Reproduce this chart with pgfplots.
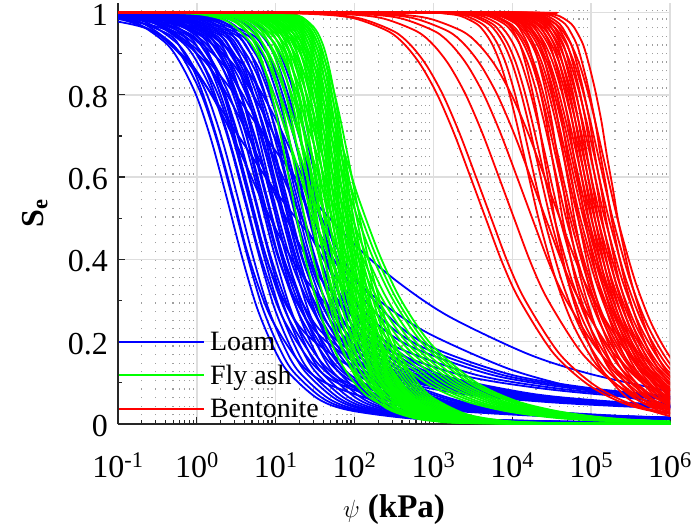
\documentclass[border=0pt]{standalone}
\usepackage{fontspec}
\setmainfont{Liberation Serif}
\usepackage{pgfplots}
\usepackage{pgfplotstable}
\pgfplotsset{compat=1.18}

\definecolor{loamc}{RGB}{0,0,255}
\definecolor{flyc}{RGB}{0,255,0}
\definecolor{bentc}{RGB}{255,0,0}

% Effective saturation curves, x = log10(psi / kPa), one column per sample
% ---------------- Loam ----------------
\pgfplotstableread{
se c1 c2 c3 c4 c5 c6
0.999 -1.93 -1.79 -1.65 -1.51 -1.36 -1.21
0.992 -1.16 -1.02 -0.88 -0.74 -0.59 -0.44
0.975 -0.77 -0.63 -0.49 -0.35 -0.20 -0.05
0.925 -0.39 -0.25 -0.11 0.03 0.18 0.33
0.874 -0.20 -0.06 0.08 0.22 0.37 0.52
0.795 0.00 0.14 0.28 0.42 0.57 0.72
0.685 0.19 0.33 0.47 0.61 0.76 0.91
0.549 0.38 0.52 0.66 0.80 0.95 1.10
0.408 0.57 0.71 0.85 0.99 1.14 1.29
0.284 0.76 0.90 1.04 1.18 1.33 1.48
0.191 0.96 1.10 1.24 1.38 1.53 1.68
0.128 1.15 1.29 1.43 1.57 1.72 1.87
0.062 1.53 1.67 1.81 1.95 2.10 2.25
0.034 1.92 2.06 2.20 2.34 2.49 2.64
0.014 2.69 2.83 2.97 3.11 3.26 3.41
0.008 3.46 3.60 3.74 3.88 4.03 4.18
0.003 5.00 5.14 5.28 5.42 5.57 5.72
0.002 6.53 6.67 6.81 6.95 7.10 7.25
}\loamA

\pgfplotstableread{
se c1 c2 c3 c4 c5
0.999 -1.86 -1.71 -1.58 -1.43 -1.29
0.992 -1.09 -0.94 -0.81 -0.66 -0.52
0.975 -0.70 -0.55 -0.42 -0.27 -0.13
0.925 -0.32 -0.17 -0.04 0.11 0.25
0.874 -0.13 0.02 0.15 0.30 0.44
0.795 0.07 0.22 0.35 0.50 0.64
0.685 0.26 0.41 0.54 0.69 0.83
0.549 0.45 0.60 0.73 0.88 1.02
0.408 0.64 0.79 0.92 1.07 1.21
0.284 0.83 0.98 1.11 1.26 1.40
0.191 1.03 1.18 1.31 1.46 1.60
0.128 1.22 1.37 1.50 1.65 1.79
0.062 1.60 1.75 1.88 2.03 2.17
0.034 1.99 2.14 2.27 2.42 2.56
0.014 2.76 2.91 3.04 3.19 3.33
0.008 3.53 3.68 3.81 3.96 4.10
0.003 5.07 5.22 5.35 5.50 5.64
0.002 6.60 6.75 6.88 7.03 7.17
}\loamAA

\pgfplotstableread{
se c1 c2 c3 c4 c5 c6 c7 c8 c9 c10
1.000 -2.30 -2.15 -2.02 -1.92 -1.82 -1.72 -1.62 -1.52 -1.40 -1.25
0.999 -1.70 -1.55 -1.42 -1.32 -1.22 -1.12 -1.02 -0.92 -0.80 -0.65
0.994 -1.03 -0.88 -0.75 -0.65 -0.55 -0.45 -0.35 -0.25 -0.13 0.02
0.948 -0.37 -0.22 -0.09 0.01 0.11 0.21 0.31 0.41 0.53 0.68
0.912 -0.20 -0.05 0.08 0.18 0.28 0.38 0.48 0.58 0.70 0.85
0.855 -0.03 0.12 0.25 0.35 0.45 0.55 0.65 0.75 0.87 1.02
0.772 0.13 0.28 0.41 0.51 0.61 0.71 0.81 0.91 1.03 1.18
0.665 0.30 0.45 0.58 0.68 0.78 0.88 0.98 1.08 1.20 1.35
0.543 0.47 0.62 0.75 0.85 0.95 1.05 1.15 1.25 1.37 1.52
0.424 0.63 0.78 0.91 1.01 1.11 1.21 1.31 1.41 1.53 1.68
0.324 0.80 0.95 1.08 1.18 1.28 1.38 1.48 1.58 1.70 1.85
0.247 0.97 1.12 1.25 1.35 1.45 1.55 1.65 1.75 1.87 2.02
0.150 1.30 1.45 1.58 1.68 1.78 1.88 1.98 2.08 2.20 2.35
0.100 1.63 1.78 1.91 2.01 2.11 2.21 2.31 2.41 2.53 2.68
0.055 2.30 2.45 2.58 2.68 2.78 2.88 2.98 3.08 3.20 3.35
0.036 2.97 3.12 3.25 3.35 3.45 3.55 3.65 3.75 3.87 4.02
0.020 4.30 4.45 4.58 4.68 4.78 4.88 4.98 5.08 5.20 5.35
0.013 5.63 5.78 5.91 6.01 6.11 6.21 6.31 6.41 6.53 6.68
0.009 6.97 7.12 7.25 7.35 7.45 7.55 7.65 7.75 7.87 8.02
}\loamB

\pgfplotstableread{
se c1 c2 c3 c4 c5 c6
1.000 -2.08 -1.87 -1.67 -1.57 -1.46 -1.32
0.999 -1.48 -1.27 -1.07 -0.97 -0.86 -0.72
0.994 -0.81 -0.60 -0.40 -0.30 -0.19 -0.05
0.948 -0.15 0.06 0.26 0.36 0.47 0.61
0.912 0.02 0.23 0.43 0.53 0.64 0.78
0.855 0.19 0.40 0.60 0.70 0.81 0.95
0.772 0.35 0.56 0.76 0.86 0.97 1.11
0.665 0.52 0.73 0.93 1.03 1.14 1.28
0.543 0.69 0.90 1.10 1.20 1.31 1.45
0.424 0.85 1.06 1.26 1.36 1.47 1.61
0.324 1.02 1.23 1.43 1.53 1.64 1.78
0.247 1.19 1.40 1.60 1.70 1.81 1.95
0.150 1.52 1.73 1.93 2.03 2.14 2.28
0.100 1.85 2.06 2.26 2.36 2.47 2.61
0.055 2.52 2.73 2.93 3.03 3.14 3.28
0.036 3.19 3.40 3.60 3.70 3.81 3.95
0.020 4.52 4.73 4.93 5.03 5.14 5.28
0.013 5.85 6.06 6.26 6.36 6.47 6.61
0.009 7.19 7.40 7.60 7.70 7.81 7.95
}\loamBB

\pgfplotstableread{
se c1 c2 c3 c4 c5 c6 c7
1.000 -2.10 -1.95 -1.80 -1.65 -1.50 -1.35 -1.20
0.9996 -1.10 -0.95 -0.80 -0.65 -0.50 -0.35 -0.20
0.996 -0.60 -0.45 -0.30 -0.15 0.00 0.15 0.30
0.989 -0.35 -0.20 -0.05 0.10 0.25 0.40 0.55
0.965 -0.10 0.05 0.20 0.35 0.50 0.65 0.80
0.901 0.15 0.30 0.45 0.60 0.75 0.90 1.05
0.761 0.40 0.55 0.70 0.85 1.00 1.15 1.30
0.564 0.65 0.80 0.95 1.10 1.25 1.40 1.55
0.393 0.90 1.05 1.20 1.35 1.50 1.65 1.80
0.283 1.15 1.30 1.45 1.60 1.75 1.90 2.05
0.216 1.40 1.55 1.70 1.85 2.00 2.15 2.30
0.145 1.90 2.05 2.20 2.35 2.50 2.65 2.80
0.109 2.40 2.55 2.70 2.85 3.00 3.15 3.30
0.072 3.40 3.55 3.70 3.85 4.00 4.15 4.30
0.054 4.40 4.55 4.70 4.85 5.00 5.15 5.30
0.043 5.40 5.55 5.70 5.85 6.00 6.15 6.30
0.036 6.40 6.55 6.70 6.85 7.00 7.15 7.30
}\loamC

\pgfplotstableread{
se c1 c2 c3 c4 c5
1.000 -1.88 -1.72 -1.57 -1.42 -1.28
0.9996 -0.88 -0.72 -0.57 -0.42 -0.28
0.996 -0.38 -0.22 -0.07 0.08 0.22
0.989 -0.13 0.03 0.18 0.33 0.47
0.965 0.12 0.28 0.43 0.58 0.72
0.901 0.37 0.53 0.68 0.83 0.97
0.761 0.62 0.78 0.93 1.08 1.22
0.564 0.87 1.03 1.18 1.33 1.47
0.393 1.12 1.28 1.43 1.58 1.72
0.283 1.37 1.53 1.68 1.83 1.97
0.216 1.62 1.78 1.93 2.08 2.22
0.145 2.12 2.28 2.43 2.58 2.72
0.109 2.62 2.78 2.93 3.08 3.22
0.072 3.62 3.78 3.93 4.08 4.22
0.054 4.62 4.78 4.93 5.08 5.22
0.043 5.62 5.78 5.93 6.08 6.22
0.036 6.62 6.78 6.93 7.08 7.22
}\loamCC

\pgfplotstableread{
se c1 c2 c3 c4 c5
0.999 -2.15 -1.95 -1.75 -1.62 -1.50
0.996 -1.65 -1.45 -1.25 -1.12 -1.00
0.962 -0.65 -0.45 -0.25 -0.12 0.00
0.891 -0.15 0.05 0.25 0.38 0.50
0.827 0.10 0.30 0.50 0.63 0.75
0.741 0.35 0.55 0.75 0.88 1.00
0.639 0.60 0.80 1.00 1.13 1.25
0.533 0.85 1.05 1.25 1.38 1.50
0.437 1.10 1.30 1.50 1.63 1.75
0.358 1.35 1.55 1.75 1.88 2.00
0.249 1.85 2.05 2.25 2.38 2.50
0.185 2.35 2.55 2.75 2.88 3.00
0.119 3.35 3.55 3.75 3.88 4.00
0.087 4.35 4.55 4.75 4.88 5.00
0.068 5.35 5.55 5.75 5.88 6.00
0.056 6.35 6.55 6.75 6.88 7.00
}\loamD

\pgfplotstableread{
xa ya xb yb
-1.20 0.995 -1.20 0.992
-1.00 0.992 -1.00 0.986
-0.50 0.971 -0.50 0.948
0.00 0.910 0.00 0.852
0.50 0.797 0.50 0.708
1.00 0.663 1.00 0.565
1.52 0.535 1.50 0.444
2.06 0.425 2.00 0.349
2.57 0.342 2.50 0.273
3.20 0.261 3.00 0.214
4.20 0.170 4.00 0.131
5.00 0.121 5.00 0.080
6.00 0.079 6.00 0.049
6.30 0.069 6.30 0.043
}\loamE

% ---------------- Fly ash ----------------
\pgfplotstableread{
se c1 c2 c3 c4 c5 c6 c7 c8 c9
1.000 -1.90 -1.72 -1.60 -1.50 -1.42 -1.34 -1.26 -1.18 -1.10
0.9996 -0.20 -0.02 0.10 0.20 0.28 0.36 0.44 0.52 0.60
0.996 0.20 0.38 0.50 0.60 0.68 0.76 0.84 0.92 1.00
0.988 0.40 0.58 0.70 0.80 0.88 0.96 1.04 1.12 1.20
0.963 0.60 0.78 0.90 1.00 1.08 1.16 1.24 1.32 1.40
0.937 0.70 0.88 1.00 1.10 1.18 1.26 1.34 1.42 1.50
0.896 0.80 0.98 1.10 1.20 1.28 1.36 1.44 1.52 1.60
0.837 0.90 1.08 1.20 1.30 1.38 1.46 1.54 1.62 1.70
0.758 1.00 1.18 1.30 1.40 1.48 1.56 1.64 1.72 1.80
0.665 1.10 1.28 1.40 1.50 1.58 1.66 1.74 1.82 1.90
0.566 1.20 1.38 1.50 1.60 1.68 1.76 1.84 1.92 2.00
0.469 1.30 1.48 1.60 1.70 1.78 1.86 1.94 2.02 2.10
0.383 1.40 1.58 1.70 1.80 1.88 1.96 2.04 2.12 2.20
0.248 1.60 1.78 1.90 2.00 2.08 2.16 2.24 2.32 2.40
0.158 1.80 1.98 2.10 2.20 2.28 2.36 2.44 2.52 2.60
0.100 2.00 2.18 2.30 2.40 2.48 2.56 2.64 2.72 2.80
0.063 2.20 2.38 2.50 2.60 2.68 2.76 2.84 2.92 3.00
0.025 2.60 2.78 2.90 3.00 3.08 3.16 3.24 3.32 3.40
0.010 3.00 3.18 3.30 3.40 3.48 3.56 3.64 3.72 3.80
0.004 3.40 3.58 3.70 3.80 3.88 3.96 4.04 4.12 4.20
0.001 4.20 4.38 4.50 4.60 4.68 4.76 4.84 4.92 5.00
0.000 6.20 6.38 6.50 6.60 6.68 6.76 6.84 6.92 7.00
}\flyA

\pgfplotstableread{
se c1 c2 c3 c4 c5 c6 c7 c8
1.000 -1.80 -1.66 -1.55 -1.46 -1.38 -1.30 -1.22 -1.14
0.9996 -0.10 0.04 0.15 0.24 0.32 0.40 0.48 0.56
0.996 0.30 0.44 0.55 0.64 0.72 0.80 0.88 0.96
0.988 0.50 0.64 0.75 0.84 0.92 1.00 1.08 1.16
0.963 0.70 0.84 0.95 1.04 1.12 1.20 1.28 1.36
0.937 0.80 0.94 1.05 1.14 1.22 1.30 1.38 1.46
0.896 0.90 1.04 1.15 1.24 1.32 1.40 1.48 1.56
0.837 1.00 1.14 1.25 1.34 1.42 1.50 1.58 1.66
0.758 1.10 1.24 1.35 1.44 1.52 1.60 1.68 1.76
0.665 1.20 1.34 1.45 1.54 1.62 1.70 1.78 1.86
0.566 1.30 1.44 1.55 1.64 1.72 1.80 1.88 1.96
0.469 1.40 1.54 1.65 1.74 1.82 1.90 1.98 2.06
0.383 1.50 1.64 1.75 1.84 1.92 2.00 2.08 2.16
0.248 1.70 1.84 1.95 2.04 2.12 2.20 2.28 2.36
0.158 1.90 2.04 2.15 2.24 2.32 2.40 2.48 2.56
0.100 2.10 2.24 2.35 2.44 2.52 2.60 2.68 2.76
0.063 2.30 2.44 2.55 2.64 2.72 2.80 2.88 2.96
0.025 2.70 2.84 2.95 3.04 3.12 3.20 3.28 3.36
0.010 3.10 3.24 3.35 3.44 3.52 3.60 3.68 3.76
0.004 3.50 3.64 3.75 3.84 3.92 4.00 4.08 4.16
0.001 4.30 4.44 4.55 4.64 4.72 4.80 4.88 4.96
0.000 6.30 6.44 6.55 6.64 6.72 6.80 6.88 6.96
}\flyAA

\pgfplotstableread{
se c1 c2 c3 c4 c5 c6 c7 c8
1.000 -1.65 -1.55 -1.45 -1.38 -1.32 -1.26 -1.20 -1.14
0.9996 0.39 0.49 0.59 0.66 0.72 0.78 0.84 0.90
0.9965 0.68 0.78 0.88 0.95 1.01 1.07 1.13 1.19
0.989 0.82 0.92 1.02 1.09 1.15 1.21 1.27 1.33
0.967 0.96 1.06 1.16 1.23 1.29 1.35 1.41 1.47
0.944 1.04 1.14 1.24 1.31 1.37 1.43 1.49 1.55
0.909 1.11 1.21 1.31 1.38 1.44 1.50 1.56 1.62
0.855 1.18 1.28 1.38 1.45 1.51 1.57 1.63 1.69
0.785 1.25 1.35 1.45 1.52 1.58 1.64 1.70 1.76
0.699 1.32 1.42 1.52 1.59 1.65 1.71 1.77 1.83
0.608 1.39 1.49 1.59 1.66 1.72 1.78 1.84 1.90
0.516 1.46 1.56 1.66 1.73 1.79 1.85 1.91 1.97
0.432 1.54 1.64 1.74 1.81 1.87 1.93 1.99 2.05
0.296 1.68 1.78 1.88 1.95 2.01 2.07 2.13 2.19
0.199 1.82 1.92 2.02 2.09 2.15 2.21 2.27 2.33
0.133 1.96 2.06 2.16 2.23 2.29 2.35 2.41 2.47
0.089 2.11 2.21 2.31 2.38 2.44 2.50 2.56 2.62
0.040 2.39 2.49 2.59 2.66 2.72 2.78 2.84 2.90
0.018 2.68 2.78 2.88 2.95 3.01 3.07 3.13 3.19
0.008 2.96 3.06 3.16 3.23 3.29 3.35 3.41 3.47
0.002 3.54 3.64 3.74 3.81 3.87 3.93 3.99 4.05
0.000 6.15 6.25 6.35 6.42 6.48 6.54 6.60 6.66
}\flyB

\pgfplotstableread{
se c1 c2 c3 c4 c5 c6 c7
1.000 -1.60 -1.50 -1.41 -1.35 -1.29 -1.23 -1.17
0.9996 0.44 0.54 0.63 0.69 0.75 0.81 0.87
0.9965 0.73 0.83 0.92 0.98 1.04 1.10 1.16
0.989 0.87 0.97 1.06 1.12 1.18 1.24 1.30
0.967 1.01 1.11 1.20 1.26 1.32 1.38 1.44
0.944 1.09 1.19 1.28 1.34 1.40 1.46 1.52
0.909 1.16 1.26 1.35 1.41 1.47 1.53 1.59
0.855 1.23 1.33 1.42 1.48 1.54 1.60 1.66
0.785 1.30 1.40 1.49 1.55 1.61 1.67 1.73
0.699 1.37 1.47 1.56 1.62 1.68 1.74 1.80
0.608 1.44 1.54 1.63 1.69 1.75 1.81 1.87
0.516 1.51 1.61 1.70 1.76 1.82 1.88 1.94
0.432 1.59 1.69 1.78 1.84 1.90 1.96 2.02
0.296 1.73 1.83 1.92 1.98 2.04 2.10 2.16
0.199 1.87 1.97 2.06 2.12 2.18 2.24 2.30
0.133 2.01 2.11 2.20 2.26 2.32 2.38 2.44
0.089 2.16 2.26 2.35 2.41 2.47 2.53 2.59
0.040 2.44 2.54 2.63 2.69 2.75 2.81 2.87
0.018 2.73 2.83 2.92 2.98 3.04 3.10 3.16
0.008 3.01 3.11 3.20 3.26 3.32 3.38 3.44
0.002 3.59 3.69 3.78 3.84 3.90 3.96 4.02
0.000 6.20 6.30 6.39 6.45 6.51 6.57 6.63
}\flyBB

\pgfplotstableread{
se c1 c2 c3 c4 c5 c6
1.000 -1.70 -1.55 -1.40 -1.28 -1.15 -1.05
0.9998 -0.60 -0.45 -0.30 -0.18 -0.05 0.05
0.9975 -0.10 0.05 0.20 0.32 0.45 0.55
0.992 0.15 0.30 0.45 0.57 0.70 0.80
0.977 0.40 0.55 0.70 0.82 0.95 1.05
0.934 0.65 0.80 0.95 1.07 1.20 1.30
0.894 0.78 0.93 1.08 1.20 1.33 1.43
0.841 0.90 1.05 1.20 1.32 1.45 1.55
0.775 1.02 1.17 1.32 1.44 1.57 1.67
0.700 1.15 1.30 1.45 1.57 1.70 1.80
0.623 1.28 1.43 1.58 1.70 1.83 1.93
0.549 1.40 1.55 1.70 1.82 1.95 2.05
0.419 1.65 1.80 1.95 2.07 2.20 2.30
0.315 1.90 2.05 2.20 2.32 2.45 2.55
0.237 2.15 2.30 2.45 2.57 2.70 2.80
0.178 2.40 2.55 2.70 2.82 2.95 3.05
0.100 2.90 3.05 3.20 3.32 3.45 3.55
0.056 3.40 3.55 3.70 3.82 3.95 4.05
0.032 3.90 4.05 4.20 4.32 4.45 4.55
0.018 4.40 4.55 4.70 4.82 4.95 5.05
0.010 4.90 5.05 5.20 5.32 5.45 5.55
0.003 5.90 6.05 6.20 6.32 6.45 6.55
0.001 6.90 7.05 7.20 7.32 7.45 7.55
}\flyC

\pgfplotstableread{
se c1 c2 c3 c4 c5
1.000 -1.62 -1.47 -1.34 -1.22 -1.10
0.9998 -0.52 -0.37 -0.24 -0.12 0.00
0.9975 -0.02 0.13 0.26 0.38 0.50
0.992 0.23 0.38 0.51 0.63 0.75
0.977 0.48 0.63 0.76 0.88 1.00
0.934 0.73 0.88 1.01 1.13 1.25
0.894 0.86 1.01 1.14 1.26 1.38
0.841 0.98 1.13 1.26 1.38 1.50
0.775 1.10 1.25 1.38 1.50 1.62
0.700 1.23 1.38 1.51 1.63 1.75
0.623 1.36 1.51 1.64 1.76 1.88
0.549 1.48 1.63 1.76 1.88 2.00
0.419 1.73 1.88 2.01 2.13 2.25
0.315 1.98 2.13 2.26 2.38 2.50
0.237 2.23 2.38 2.51 2.63 2.75
0.178 2.48 2.63 2.76 2.88 3.00
0.100 2.98 3.13 3.26 3.38 3.50
0.056 3.48 3.63 3.76 3.88 4.00
0.032 3.98 4.13 4.26 4.38 4.50
0.018 4.48 4.63 4.76 4.88 5.00
0.010 4.98 5.13 5.26 5.38 5.50
0.003 5.98 6.13 6.26 6.38 6.50
0.001 6.98 7.13 7.26 7.38 7.50
}\flyCC

% ---------------- Bentonite ----------------
\pgfplotstableread{
se c1 c2 c3 c4 c5 c6 c7 c8 c9 c10 c11 c12
1.000 -1.20 -1.20 -1.20 -1.20 -1.20 -1.20 -1.20 -1.20 -1.20 -1.20 -1.20 -1.20
0.9997 2.75 2.90 3.02 3.10 3.18 3.25 3.32 3.38 3.46 3.54 3.64 3.75
0.997 3.15 3.30 3.42 3.50 3.58 3.65 3.72 3.78 3.86 3.94 4.04 4.15
0.991 3.35 3.50 3.62 3.70 3.78 3.85 3.92 3.98 4.06 4.14 4.24 4.35
0.972 3.55 3.70 3.82 3.90 3.98 4.05 4.12 4.18 4.26 4.34 4.44 4.55
0.952 3.65 3.80 3.92 4.00 4.08 4.15 4.22 4.28 4.36 4.44 4.54 4.65
0.921 3.75 3.90 4.02 4.10 4.18 4.25 4.32 4.38 4.46 4.54 4.64 4.75
0.875 3.85 4.00 4.12 4.20 4.28 4.35 4.42 4.48 4.56 4.64 4.74 4.85
0.812 3.95 4.10 4.22 4.30 4.38 4.45 4.52 4.58 4.66 4.74 4.84 4.95
0.736 4.05 4.20 4.32 4.40 4.48 4.55 4.62 4.68 4.76 4.84 4.94 5.05
0.652 4.15 4.30 4.42 4.50 4.58 4.65 4.72 4.78 4.86 4.94 5.04 5.15
0.567 4.25 4.40 4.52 4.60 4.68 4.75 4.82 4.88 4.96 5.04 5.14 5.25
0.487 4.35 4.50 4.62 4.70 4.78 4.85 4.92 4.98 5.06 5.14 5.24 5.35
0.352 4.55 4.70 4.82 4.90 4.98 5.05 5.12 5.18 5.26 5.34 5.44 5.55
0.250 4.75 4.90 5.02 5.10 5.18 5.25 5.32 5.38 5.46 5.54 5.64 5.75
0.178 4.95 5.10 5.22 5.30 5.38 5.45 5.52 5.58 5.66 5.74 5.84 5.95
0.126 5.15 5.30 5.42 5.50 5.58 5.65 5.72 5.78 5.86 5.94 6.04 6.15
0.063 5.55 5.70 5.82 5.90 5.98 6.05 6.12 6.18 6.26 6.34 6.44 6.55
0.032 5.95 6.10 6.22 6.30 6.38 6.45 6.52 6.58 6.66 6.74 6.84 6.95
0.016 6.35 6.50 6.62 6.70 6.78 6.85 6.92 6.98 7.06 7.14 7.24 7.35
}\bentA

\pgfplotstableread{
se c1 c2 c3 c4 c5 c6 c7 c8 c9
1.000 -1.20 -1.20 -1.20 -1.20 -1.20 -1.20 -1.20 -1.20 -1.20
0.9997 2.82 2.95 3.15 3.28 3.35 3.42 3.50 3.59 3.69
0.997 3.22 3.35 3.55 3.68 3.75 3.82 3.90 3.99 4.09
0.991 3.42 3.55 3.75 3.88 3.95 4.02 4.10 4.19 4.29
0.972 3.62 3.75 3.95 4.08 4.15 4.22 4.30 4.39 4.49
0.952 3.72 3.85 4.05 4.18 4.25 4.32 4.40 4.49 4.59
0.921 3.82 3.95 4.15 4.28 4.35 4.42 4.50 4.59 4.69
0.875 3.92 4.05 4.25 4.38 4.45 4.52 4.60 4.69 4.79
0.812 4.02 4.15 4.35 4.48 4.55 4.62 4.70 4.79 4.89
0.736 4.12 4.25 4.45 4.58 4.65 4.72 4.80 4.89 4.99
0.652 4.22 4.35 4.55 4.68 4.75 4.82 4.90 4.99 5.09
0.567 4.32 4.45 4.65 4.78 4.85 4.92 5.00 5.09 5.19
0.487 4.42 4.55 4.75 4.88 4.95 5.02 5.10 5.19 5.29
0.352 4.62 4.75 4.95 5.08 5.15 5.22 5.30 5.39 5.49
0.250 4.82 4.95 5.15 5.28 5.35 5.42 5.50 5.59 5.69
0.178 5.02 5.15 5.35 5.48 5.55 5.62 5.70 5.79 5.89
0.126 5.22 5.35 5.55 5.68 5.75 5.82 5.90 5.99 6.09
0.063 5.62 5.75 5.95 6.08 6.15 6.22 6.30 6.39 6.49
0.032 6.02 6.15 6.35 6.48 6.55 6.62 6.70 6.79 6.89
0.016 6.42 6.55 6.75 6.88 6.95 7.02 7.10 7.19 7.29
}\bentAA

\pgfplotstableread{
se c1 c2 c3 c4 c5 c6 c7 c8
1.000 -1.20 -1.20 -1.20 -1.20 -1.20 -1.20 -1.20 -1.20
0.9997 3.34 3.51 3.64 3.72 3.81 3.89 3.99 4.14
0.997 3.64 3.81 3.94 4.02 4.11 4.19 4.29 4.44
0.991 3.80 3.97 4.10 4.18 4.27 4.35 4.45 4.60
0.972 3.95 4.12 4.25 4.33 4.42 4.50 4.60 4.75
0.952 4.02 4.19 4.32 4.40 4.49 4.57 4.67 4.82
0.921 4.10 4.27 4.40 4.48 4.57 4.65 4.75 4.90
0.875 4.17 4.34 4.47 4.55 4.64 4.72 4.82 4.97
0.812 4.25 4.42 4.55 4.63 4.72 4.80 4.90 5.05
0.736 4.33 4.50 4.63 4.71 4.80 4.88 4.98 5.13
0.652 4.40 4.57 4.70 4.78 4.87 4.95 5.05 5.20
0.567 4.48 4.65 4.78 4.86 4.95 5.03 5.13 5.28
0.487 4.55 4.72 4.85 4.93 5.02 5.10 5.20 5.35
0.352 4.70 4.87 5.00 5.08 5.17 5.25 5.35 5.50
0.250 4.86 5.03 5.16 5.24 5.33 5.41 5.51 5.66
0.178 5.01 5.18 5.31 5.39 5.48 5.56 5.66 5.81
0.126 5.16 5.33 5.46 5.54 5.63 5.71 5.81 5.96
0.063 5.46 5.63 5.76 5.84 5.93 6.01 6.11 6.26
0.032 5.77 5.94 6.07 6.15 6.24 6.32 6.42 6.57
0.016 6.07 6.24 6.37 6.45 6.54 6.62 6.72 6.87
}\bentB

\pgfplotstableread{
se c1 c2 c3 c4 c5 c6
1.000 -1.20 -1.20 -1.20 -1.20 -1.20 -1.20
0.9997 3.44 3.59 3.77 3.85 3.94 4.06
0.997 3.74 3.89 4.07 4.15 4.24 4.36
0.991 3.90 4.05 4.23 4.31 4.40 4.52
0.972 4.05 4.20 4.38 4.46 4.55 4.67
0.952 4.12 4.27 4.45 4.53 4.62 4.74
0.921 4.20 4.35 4.53 4.61 4.70 4.82
0.875 4.27 4.42 4.60 4.68 4.77 4.89
0.812 4.35 4.50 4.68 4.76 4.85 4.97
0.736 4.43 4.58 4.76 4.84 4.93 5.05
0.652 4.50 4.65 4.83 4.91 5.00 5.12
0.567 4.58 4.73 4.91 4.99 5.08 5.20
0.487 4.65 4.80 4.98 5.06 5.15 5.27
0.352 4.80 4.95 5.13 5.21 5.30 5.42
0.250 4.96 5.11 5.29 5.37 5.46 5.58
0.178 5.11 5.26 5.44 5.52 5.61 5.73
0.126 5.26 5.41 5.59 5.67 5.76 5.88
0.063 5.56 5.71 5.89 5.97 6.06 6.18
0.032 5.87 6.02 6.20 6.28 6.37 6.49
0.016 6.17 6.32 6.50 6.58 6.67 6.79
}\bentBB

\pgfplotstableread{
se c1 c2 c3 c4 c5 c6
1.000 -1.20 -1.20 -1.20 -1.20 -1.20 -1.20
0.9995 0.76 0.83 1.12 1.35 1.52 1.70
0.995 1.59 1.66 1.95 2.18 2.35 2.53
0.985 2.01 2.08 2.37 2.60 2.77 2.95
0.954 2.43 2.50 2.79 3.02 3.19 3.37
0.921 2.64 2.71 3.00 3.23 3.40 3.58
0.872 2.84 2.91 3.20 3.43 3.60 3.78
0.800 3.05 3.12 3.41 3.64 3.81 3.99
0.707 3.26 3.33 3.62 3.85 4.02 4.20
0.600 3.47 3.54 3.83 4.06 4.23 4.41
0.491 3.68 3.75 4.04 4.27 4.44 4.62
0.389 3.88 3.95 4.24 4.47 4.64 4.82
0.302 4.09 4.16 4.45 4.68 4.85 5.03
0.175 4.51 4.58 4.87 5.10 5.27 5.45
0.100 4.93 5.00 5.29 5.52 5.69 5.87
0.056 5.34 5.41 5.70 5.93 6.10 6.28
0.032 5.76 5.83 6.12 6.35 6.52 6.70
0.010 6.59 6.66 6.95 7.18 7.35 7.53
}\bentC

\pgfplotsset{
  loam/.style={color=loamc, line width=1.8pt},
  flyash/.style={color=flyc, line width=1.8pt},
  bent/.style={color=bentc, line width=1.8pt},
}

\begin{document}
\begin{tikzpicture}
\begin{axis}[
  name=ax,
  scale only axis,
  width=552pt, height=421pt,
  xmin=-1, xmax=6, ymin=0, ymax=1.023,
  axis x line*=bottom, axis y line*=left,
  axis line style={line width=1.5pt, color=black!85},
  tick align=inside,
  tick style={line width=1.2pt, color=black!85},
  major tick length=7pt, minor tick length=4pt,
  xtick={-1,0,1,2,3,4,5,6},
  xticklabels={10\textsuperscript{-1},10\textsuperscript{0},10\textsuperscript{1},10\textsuperscript{2},10\textsuperscript{3},10\textsuperscript{4},10\textsuperscript{5},10\textsuperscript{6}},
  minor xtick={-0.699,-0.523,-0.398,-0.301,-0.222,-0.155,-0.097,-0.046,
    0.301,0.477,0.602,0.699,0.778,0.845,0.903,0.954,
    1.301,1.477,1.602,1.699,1.778,1.845,1.903,1.954,
    2.301,2.477,2.602,2.699,2.778,2.845,2.903,2.954,
    3.301,3.477,3.602,3.699,3.778,3.845,3.903,3.954,
    4.301,4.477,4.602,4.699,4.778,4.845,4.903,4.954,
    5.301,5.477,5.602,5.699,5.778,5.845,5.903,5.954},
  ytick={0,0.2,0.4,0.6,0.8,1},
  yticklabels={0,0.2,0.4,0.6,0.8,1},
  minor ytick={0.1,0.3,0.5,0.7,0.9},
  xmajorgrids, ymajorgrids, xminorgrids,
  major grid style={line width=1.5pt, color=black!13},
  minor grid style={line width=1.3pt, color=black!38, dash pattern=on 1.3pt off 7.3pt},
  tick label style={font=\fontsize{32}{36}\selectfont},
  xticklabel style={anchor=base, yshift=-53pt},
  yticklabel style={anchor=east, inner sep=0pt, xshift=-10pt, yshift=-2pt},
  xlabel={$\psi$ \textbf{(kPa)}},
  xlabel style={font=\fontsize{33}{36}\selectfont, at={(axis description cs:0.5,-0.204)}, anchor=center},
  ylabel={\textbf{S\textsubscript{e}}},
  ylabel style={font=\fontsize{32}{36}\selectfont, at={(axis description cs:-0.1504,0.5)}, anchor=center},
  legend style={at={(axis description cs:0,0)}, anchor=south west, yshift=3pt, draw=none, fill=none,
    font=\fontsize{28}{30}\selectfont, inner sep=0pt, row sep=9pt, column sep=3pt},
  legend cell align=left,
  legend image code/.code={\draw[#1] (0pt,0pt) -- (85pt,0pt);},
]
\addlegendimage{color=loamc, line width=1.8pt}\addlegendentry{Loam}
\addlegendimage{color=flyc, line width=1.8pt}\addlegendentry{Fly ash}
\addlegendimage{color=bentc, line width=1.8pt}\addlegendentry{Bentonite}

\pgfplotsinvokeforeach{c1,c2,c3,c4,c5,c6}{\addplot[loam, smooth, forget plot] table[x=#1, y=se] {\loamA};}
\pgfplotsinvokeforeach{c1,c2,c3,c4,c5}{\addplot[loam, smooth, forget plot] table[x=#1, y=se] {\loamAA};}
\pgfplotsinvokeforeach{c1,c2,c3,c4,c5,c6,c7,c8,c9,c10}{\addplot[loam, smooth, forget plot] table[x=#1, y=se] {\loamB};}
\pgfplotsinvokeforeach{c1,c2,c3,c4,c5,c6}{\addplot[loam, smooth, forget plot] table[x=#1, y=se] {\loamBB};}
\pgfplotsinvokeforeach{c1,c2,c3,c4,c5,c6,c7}{\addplot[loam, smooth, forget plot] table[x=#1, y=se] {\loamC};}
\pgfplotsinvokeforeach{c1,c2,c3,c4,c5}{\addplot[loam, smooth, forget plot] table[x=#1, y=se] {\loamCC};}
\pgfplotsinvokeforeach{c1,c2,c3,c4,c5}{\addplot[loam, smooth, forget plot] table[x=#1, y=se] {\loamD};}
\addplot[loam, smooth, forget plot] table[x=xa, y=ya] {\loamE};
\addplot[loam, smooth, forget plot] table[x=xb, y=yb] {\loamE};

\pgfplotsinvokeforeach{c1,c2,c3,c4,c5,c6,c7,c8,c9}{\addplot[flyash, smooth, forget plot] table[x=#1, y=se] {\flyA};}
\pgfplotsinvokeforeach{c1,c2,c3,c4,c5,c6,c7,c8}{\addplot[flyash, smooth, forget plot] table[x=#1, y=se] {\flyAA};}
\pgfplotsinvokeforeach{c1,c2,c3,c4,c5,c6,c7,c8}{\addplot[flyash, smooth, forget plot] table[x=#1, y=se] {\flyB};}
\pgfplotsinvokeforeach{c1,c2,c3,c4,c5,c6,c7}{\addplot[flyash, smooth, forget plot] table[x=#1, y=se] {\flyBB};}
\pgfplotsinvokeforeach{c1,c2,c3,c4,c5,c6}{\addplot[flyash, smooth, forget plot] table[x=#1, y=se] {\flyC};}
\pgfplotsinvokeforeach{c1,c2,c3,c4,c5}{\addplot[flyash, smooth, forget plot] table[x=#1, y=se] {\flyCC};}

\pgfplotsinvokeforeach{c1,c2,c3,c4,c5,c6,c7,c8,c9,c10,c11,c12}{\addplot[bent, smooth, forget plot] table[x=#1, y=se] {\bentA};}
\pgfplotsinvokeforeach{c1,c2,c3,c4,c5,c6,c7,c8,c9}{\addplot[bent, smooth, forget plot] table[x=#1, y=se] {\bentAA};}
\pgfplotsinvokeforeach{c1,c2,c3,c4,c5,c6,c7,c8}{\addplot[bent, smooth, forget plot] table[x=#1, y=se] {\bentB};}
\pgfplotsinvokeforeach{c1,c2,c3,c4,c5,c6}{\addplot[bent, smooth, forget plot] table[x=#1, y=se] {\bentBB};}
\pgfplotsinvokeforeach{c1,c2,c3,c4,c5,c6}{\addplot[bent, smooth, forget plot] table[x=#1, y=se] {\bentC};}
\end{axis}
\pgfresetboundingbox
\path[use as bounding box] ([xshift=-118pt,yshift=-101pt]ax.south west) rectangle ([xshift=21pt,yshift=3pt]ax.north east);
\end{tikzpicture}
\end{document}
